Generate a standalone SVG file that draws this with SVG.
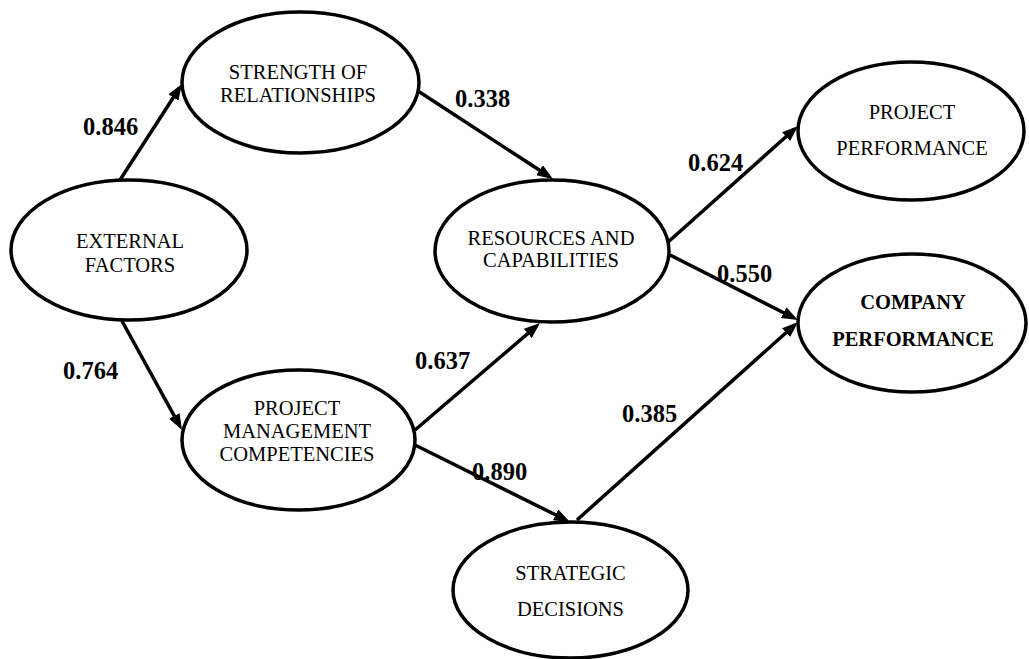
<svg xmlns="http://www.w3.org/2000/svg" width="1029" height="659" viewBox="0 0 1029 659">
<style>
.node ellipse{fill:#fff;stroke:#000;stroke-width:3.5}
.node text{font-family:"Liberation Serif","Times New Roman",serif;font-size:20.5px;fill:#000;text-anchor:middle}
.node text.b{font-weight:bold}
.conn line{stroke:#000;stroke-width:3.5;fill:none;marker-end:url(#ah)}
.lbl{font-family:"Liberation Serif","Times New Roman",serif;font-size:24.5px;font-weight:bold;fill:#000}
</style>
<defs>
<marker id="ah" viewBox="0 0 16 12" refX="11" refY="6" markerWidth="16" markerHeight="12" markerUnits="userSpaceOnUse" orient="auto">
<path d="M0,0 L16,6 L0,12 z" fill="#000"/>
</marker>
</defs>
<rect width="1029" height="659" fill="#fff"/>
<g id="connectors" class="conn">
<line x1="120" y1="180" x2="179.3" y2="88.2"/>
<line x1="122" y1="321" x2="179.6" y2="425.6"/>
<line x1="418" y1="91" x2="548.8" y2="176.3"/>
<line x1="667" y1="243" x2="794.3" y2="129.3"/>
<line x1="670" y1="255" x2="793.5" y2="317.7"/>
<line x1="577" y1="520" x2="794.3" y2="325.3"/>
<line x1="415" y1="430" x2="536.2" y2="326.3"/>
<line x1="415" y1="445" x2="565.5" y2="519.8"/>
</g>
<g id="node-sr" class="node">
<ellipse cx="300.5" cy="82.5" rx="118.5" ry="70.5"/>
<text x="298" y="79">STRENGTH OF</text>
<text x="298" y="102">RELATIONSHIPS</text>
</g>
<g id="node-ef" class="node">
<ellipse cx="129" cy="250" rx="118" ry="70"/>
<text x="130" y="248">EXTERNAL</text>
<text x="130" y="272">FACTORS</text>
</g>
<g id="node-pmc" class="node">
<ellipse cx="298.5" cy="440" rx="116.5" ry="70"/>
<text x="297" y="415">PROJECT</text>
<text x="297" y="438">MANAGEMENT</text>
<text x="297" y="461">COMPETENCIES</text>
</g>
<g id="node-rc" class="node">
<ellipse cx="552" cy="251" rx="117" ry="71"/>
<text x="551" y="245">RESOURCES AND</text>
<text x="551" y="267">CAPABILITIES</text>
</g>
<g id="node-pp" class="node">
<ellipse cx="911" cy="131" rx="113" ry="69"/>
<text x="912" y="119">PROJECT</text>
<text x="912" y="155">PERFORMANCE</text>
</g>
<g id="node-cp" class="node">
<ellipse cx="912" cy="323" rx="114" ry="69"/>
<text class="b" x="913" y="309">COMPANY</text>
<text class="b" x="913" y="346">PERFORMANCE</text>
</g>
<g id="node-sd" class="node">
<ellipse cx="570.5" cy="590" rx="117.5" ry="68"/>
<text x="570.5" y="580">STRATEGIC</text>
<text x="570.5" y="616">DECISIONS</text>
</g>
<g id="labels">
<text class="lbl" x="83" y="135">0.846</text>
<text class="lbl" x="63" y="379">0.764</text>
<text class="lbl" x="455" y="107">0.338</text>
<text class="lbl" x="688" y="171">0.624</text>
<text class="lbl" x="717" y="282">0.550</text>
<text class="lbl" x="415" y="369">0.637</text>
<text class="lbl" x="472" y="480">0.890</text>
<text class="lbl" x="622" y="422">0.385</text>
</g>
</svg>
